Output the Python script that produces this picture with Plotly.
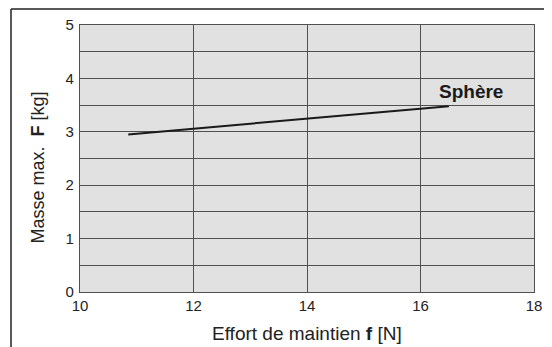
import plotly.graph_objects as go

# Data
effort_n = [10.85, 16.5]
masse_kg = [2.95, 3.48]
series_label = "Sphère"
label_pos = (16.29, 3.76)
x_ticks = [10, 12, 14, 16, 18]
y_grid = [0, 0.5, 1, 1.5, 2, 2.5, 3, 3.5, 4, 4.5, 5]
y_labels = ["0", "", "1", "", "2", "", "3", "", "4", "", "5"]

# page body has an 8px margin, so the figure is drawn 8px smaller
W, H = 544, 339
L, R, T, B = 72, 18, 17, 55
pw, ph = W - L - R, H - T - B
FONT = "Liberation Sans, Arial, Helvetica"

fig = go.Figure()
fig.add_trace(go.Scatter(x=effort_n, y=masse_kg, mode="lines",
                         line=dict(color="#1a1a1a", width=2), showlegend=False,
                         hoverinfo="skip"))
fig.add_annotation(x=label_pos[0], y=label_pos[1], text="<b>" + series_label + "</b>",
                   showarrow=False, xanchor="left", yanchor="middle",
                   font=dict(family=FONT, size=19, color="#1a1a1a"))

grid = "#505050"
fig.update_xaxes(range=[10, 18], tickvals=x_ticks, showgrid=True, gridcolor=grid,
                 gridwidth=1.3, zeroline=False, showline=True, linecolor=grid, linewidth=1.3,
                 mirror=True, ticks="", tickfont=dict(size=15, color="#222"),
                 automargin=False)
fig.update_yaxes(range=[0, 5], tickvals=y_grid, ticktext=y_labels,
                 showgrid=True, gridcolor=grid, gridwidth=1.3, zeroline=False,
                 showline=True, linecolor=grid, linewidth=1.3, mirror=True, ticks="",
                 tickfont=dict(size=15, color="#222"), automargin=False,
                 ticklabelstandoff=2)

# Axis titles
fig.add_annotation(xref="paper", yref="paper", x=0.5, y=-(325 - T - ph) / ph,
                   text="Effort de maintien <b>f</b> [N]", showarrow=False,
                   xanchor="center", yanchor="middle",
                   font=dict(family=FONT, size=19, color="#222"))
fig.add_annotation(xref="paper", yref="paper", x=(29 - L) / pw, y=1 - (159.5 - T) / ph,
                   text="Masse max.&nbsp;&nbsp;<b>F</b> [kg]", showarrow=False, textangle=-90,
                   xanchor="center", yanchor="middle",
                   font=dict(family=FONT, size=18, color="#222"))

# Outer frame lines (top & left), in paper coordinates
lx = (3 - L) / pw
ty = 1 + (T - 1) / ph
by = -(B + 5) / ph
fig.add_shape(type="line", xref="paper", yref="paper", x0=lx, x1=(W - L) / pw + 0.05,
              y0=ty, y1=ty, line=dict(color="#222", width=1.5))
fig.add_shape(type="line", xref="paper", yref="paper", x0=lx, x1=lx,
              y0=ty, y1=by, line=dict(color="#222", width=1.5))

fig.update_layout(width=W, height=H, margin=dict(l=L, r=R, t=T, b=B),
                  paper_bgcolor="white", plot_bgcolor="#e1e1e1",
                  font=dict(family=FONT, color="#222"))

fig.write_html("out.html")
